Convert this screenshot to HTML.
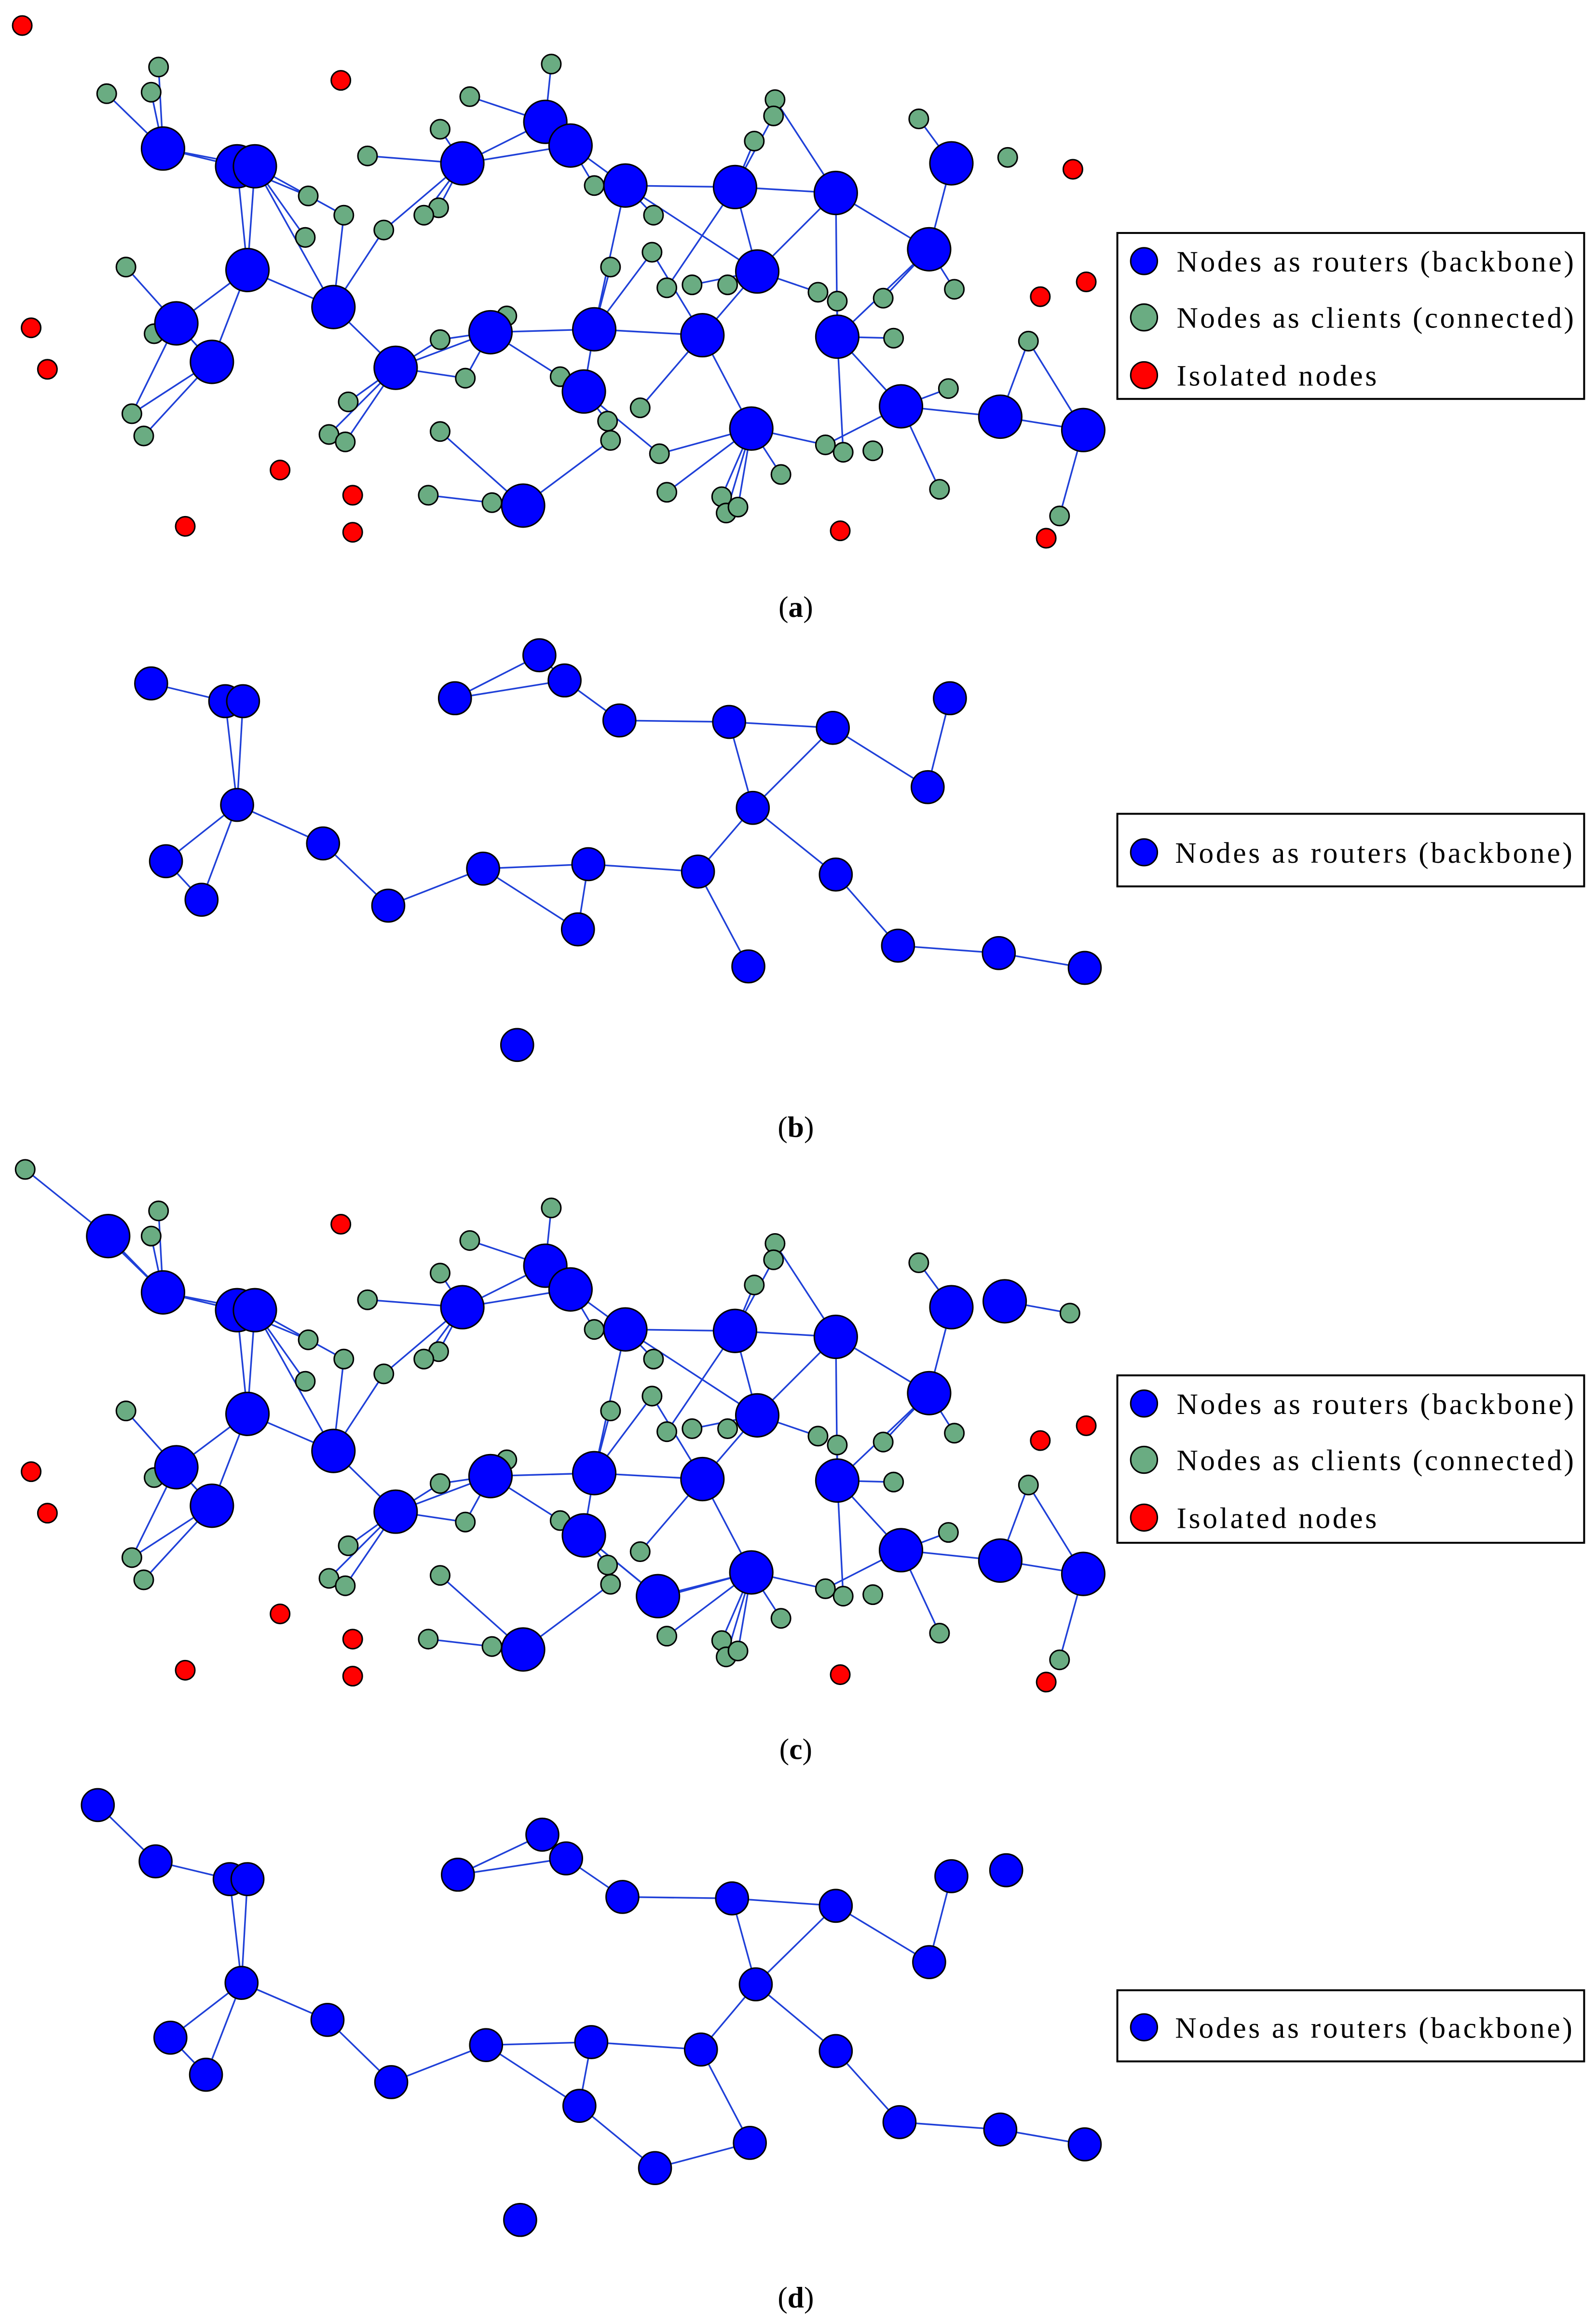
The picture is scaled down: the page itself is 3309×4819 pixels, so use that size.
<!DOCTYPE html>
<html><head><meta charset="utf-8"><style>
html,body{margin:0;padding:0;background:#fff}
svg{display:block}
text{font-family:"Liberation Serif",serif;fill:#000}
</style></head><body>
<svg id="s" width="3309" height="4819" viewBox="0 0 1077 1568" xmlns="http://www.w3.org/2000/svg">
<rect width="1077" height="1568" fill="#fff"/>
<g id="g"></g>
<g font-size="20">
<rect x="754" y="157" width="315" height="112" fill="#fff" stroke="#000" stroke-width="1.3"/>
<circle cx="772" cy="176" r="9" fill="#0000ff" stroke="#000"/><text x="794" y="183" textLength="268" lengthAdjust="spacing">Nodes as routers (backbone)</text>
<circle cx="772" cy="214" r="9" fill="#6aac82" stroke="#000"/><text x="794" y="221" textLength="268" lengthAdjust="spacing">Nodes as clients (connected)</text>
<circle cx="772" cy="253" r="9" fill="#ff0000" stroke="#000"/><text x="794" y="260" textLength="135" lengthAdjust="spacing">Isolated nodes</text>
<rect x="754" y="549" width="315" height="49" fill="#fff" stroke="#000" stroke-width="1.3"/>
<circle cx="772" cy="575" r="9" fill="#0000ff" stroke="#000"/><text x="793" y="582" textLength="268" lengthAdjust="spacing">Nodes as routers (backbone)</text>
<rect x="754" y="928" width="315" height="113" fill="#fff" stroke="#000" stroke-width="1.3"/>
<circle cx="772" cy="947" r="9" fill="#0000ff" stroke="#000"/><text x="794" y="954" textLength="268" lengthAdjust="spacing">Nodes as routers (backbone)</text>
<circle cx="772" cy="985" r="9" fill="#6aac82" stroke="#000"/><text x="794" y="992" textLength="268" lengthAdjust="spacing">Nodes as clients (connected)</text>
<circle cx="772" cy="1024" r="9" fill="#ff0000" stroke="#000"/><text x="794" y="1031" textLength="135" lengthAdjust="spacing">Isolated nodes</text>
<rect x="754" y="1343" width="315" height="48" fill="#fff" stroke="#000" stroke-width="1.3"/>
<circle cx="772" cy="1368" r="9" fill="#0000ff" stroke="#000"/><text x="793" y="1375" textLength="268" lengthAdjust="spacing">Nodes as routers (backbone)</text>
<text x="537" y="416" text-anchor="middle">(<tspan font-weight="bold">a</tspan>)</text>
<text x="537" y="767" text-anchor="middle">(<tspan font-weight="bold">b</tspan>)</text>
<text x="537" y="1187" text-anchor="middle">(<tspan font-weight="bold">c</tspan>)</text>
<text x="537" y="1557" text-anchor="middle">(<tspan font-weight="bold">d</tspan>)</text>
</g>
</svg>
<script>
var NS="http://www.w3.org/2000/svg",G=document.getElementById('g');
var eL=document.createElementNS(NS,'g'),nL=document.createElementNS(NS,'g');G.appendChild(eL);G.appendChild(nL);
function ln(a,b,dy){var l=document.createElementNS(NS,'line');l.setAttribute('x1',a[0]);l.setAttribute('y1',a[1]+dy);l.setAttribute('x2',b[0]);l.setAttribute('y2',b[1]+dy);l.setAttribute('stroke','#1f40d8');l.setAttribute('stroke-width','1.1');eL.appendChild(l);}
function ci(p,r,f,dy){var c=document.createElementNS(NS,'circle');c.setAttribute('cx',p[0]);c.setAttribute('cy',p[1]+dy);c.setAttribute('r',r);c.setAttribute('fill',f);c.setAttribute('stroke','#000');c.setAttribute('stroke-width','1');nL.appendChild(c);}
var B=[[110,100],[160,112],[172,112],[167,182],[119,218],[143,244],[225,207],[267,248],[312,110],[368,82],[385,98],[422,125],[496,126],[564,130],[642,110],[627,168],[511,183],[474,226],[401,222],[331,224],[394,264],[565,227],[608,274],[675,281],[731,290],[507,289],[353,341]];
var Gn={a:[72,63],b:[102,62],c:[107,45],d:[85,180],e:[104,225],f:[89,279],g:[97,294],h:[208,132],i:[232,145],j:[206,160],k:[259,155],l:[248,105],m:[297,87],n:[317,65],o:[372,43],p:[296,140],q:[286,145],r:[401,125],s:[441,145],t:[440,170],u:[412,180],v:[450,194],w:[467,192],x:[491,192],y:[523,67],z:[522,78],A:[509,95],C:[620,80],D:[680,106],E:[644,195],F:[552,197],H:[565,203],I:[596,201],J:[603,228],K:[694,230],L:[640,262],M:[634,330],N:[715,348],O:[297,229],P:[342,213],Q:[314,255],R:[235,271],S:[222,293],T:[233,298],U:[297,291],V:[289,334],W:[332,339],X:[378,254],Y:[410,284],Z:[412,297],aa:[432,275],ab:[445,306],ac:[450,332],ad:[487,335],ae:[490,346],af:[498,342],ag:[527,320],ah:[557,300],ai:[569,305],aj:[589,304]};
var Rd=[[15,17],[230,54],[724,114],[702,200],[733,190],[21,221],[32,249],[189,317],[238,334],[238,359],[125,355],[567,358],[706,363]];
function P(k){return typeof k==='number'?B[k]:Gn[k];}
var E=[[0,1],[0,2],[0,'a'],[0,'b'],[0,'c'],[1,3],[2,3],[1,'h'],[2,'j'],[2,'i'],[2,6],[3,4],[3,5],[3,6],['d',4],[4,'e'],[4,'f'],[5,'f'],[5,'g'],[4,5],[6,'i'],[6,'k'],[6,7],[7,'R'],[7,'S'],[7,'T'],[7,19],[7,'O'],[7,'Q'],[8,'k'],[8,'p'],[8,'q'],[8,'m'],[8,9],[8,10],[8,'l'],[9,'n'],[9,'o'],[9,10],[10,11],[10,'r'],[11,12],[11,'s'],[11,18],[11,16],[12,13],[12,16],[12,'A'],[12,'v'],[13,'y'],[13,15],[13,16],[13,21],[14,15],[14,'C'],[15,21],[15,'E'],[15,'I'],[16,17],[16,'w'],[16,'F'],[17,18],[17,25],[17,'aa'],[18,19],[18,20],[18,'u'],[18,'t'],[19,'P'],[19,'O'],[19,20],[19,'Q'],[20,'X'],[20,'Y'],[20,'ab'],[21,22],[21,'J'],[21,'H'],[21,'ai'],[22,23],[22,'L'],[22,'M'],[22,'ah'],[23,24],[23,'K'],[24,'K'],[24,'N'],[26,'Z'],[26,'W'],['V','W'],[25,'ac'],[25,'ad'],[25,'ae'],[25,'af'],[25,'ag'],[25,'ah'],[25,'ab'],[26,'U'],['z',12],['x',16],['t',17]];
function full(dy,skipR){E.forEach(function(e){ln(P(e[0]),P(e[1]),dy);});
 for(var k in Gn)ci(Gn[k],6.5,'#6aac82',dy);
 Rd.forEach(function(p,i){if(skipR&&skipR.indexOf(i)>=0)return;ci(p,6.5,'#ff0000',dy);});
 B.forEach(function(p){ci(p,14.5,'#0000ff',dy);});}
full(0);
ln([73,62],[110,100],772);ln([73,62],[17,17],772);ln([678,106],[722,114],772);ln([444,305],[507,289],772);ln([444,305],[394,264],772);
full(772,[0,2]);
ci([17,17],6.5,'#6aac82',772);ci([722,114],6.5,'#6aac82',772);
ci([73,62],14.5,'#0000ff',772);ci([678,106],14.5,'#0000ff',772);ci([444,305],14.5,'#0000ff',772);
var b=[[102,461],[152,473],[164,473],[160,543],[112,581],[136,607],[218,569],[262,611],[307,471],[364,442],[381,459],[418,486],[492,487],[562,491],[641,471],[626,531],[508,545],[471,588],[397,583],[326,586],[390,627],[564,590],[606,638],[674,643],[732,653],[505,652],[349,705]];
var be=[[0,1],[1,2],[1,3],[2,3],[3,4],[3,5],[4,5],[3,6],[6,7],[7,19],[19,18],[19,20],[18,20],[18,17],[17,16],[17,25],[16,12],[16,13],[12,11],[11,10],[10,9],[9,8],[8,10],[13,15],[15,14],[16,21],[21,22],[22,23],[23,24],[12,13]];
function bb(nodes,edges){edges.forEach(function(e){ln(nodes[e[0]],nodes[e[1]],0);});nodes.forEach(function(p){ci(p,11,'#0000ff',0);});}
bb(b,be);
var d=[[66,1218],[105,1256],[155,1268],[167,1268],[163,1338],[115,1375],[139,1400],[221,1363],[264,1405],[309,1265],[366,1238],[382,1254],[420,1280],[494,1281],[564,1286],[642,1266],[679,1262],[627,1324],[510,1339],[473,1383],[399,1378],[328,1380],[391,1421],[442,1463],[506,1446],[564,1384],[607,1432],[675,1437],[732,1447],[351,1498]];
var de=[[0,1],[1,2],[2,3],[2,4],[3,4],[4,5],[4,6],[5,6],[4,7],[7,8],[8,21],[21,20],[21,22],[20,22],[20,19],[19,18],[19,24],[22,23],[23,24],[18,13],[18,14],[13,12],[12,11],[11,10],[10,9],[9,11],[13,14],[14,17],[17,15],[18,25],[25,26],[26,27],[27,28]];
bb(d,de);
</script>
</body></html>
